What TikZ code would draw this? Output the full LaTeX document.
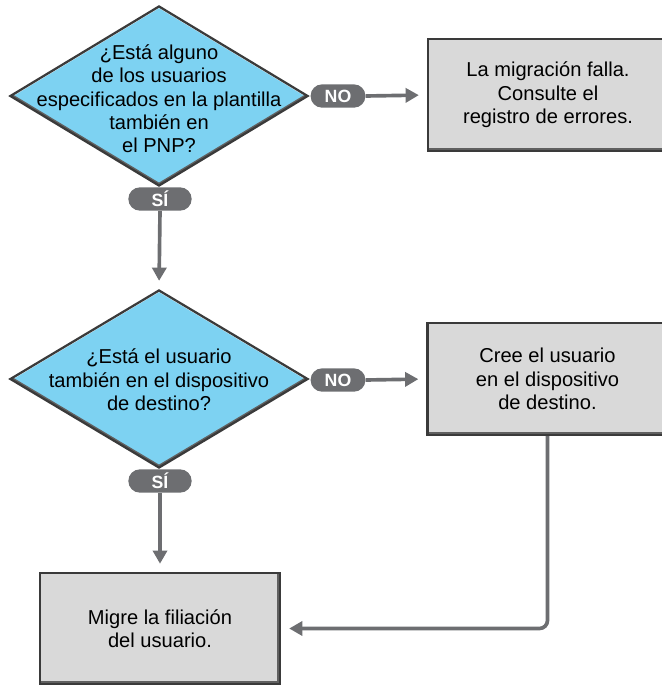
\documentclass[tikz,border=0pt]{standalone}
\usepackage{fontspec}
\setmainfont{Liberation Sans}
\usetikzlibrary{shapes.geometric,arrows.meta}
\definecolor{qblue}{RGB}{125,210,242}
\definecolor{edgedark}{RGB}{58,58,58}
\definecolor{tagGray}{RGB}{109,110,113}
\definecolor{boxgray}{RGB}{217,217,217}
\definecolor{shadegray}{RGB}{96,96,96}
\tikzset{
  decision/.style={diamond, draw=edgedark, line width=1.6pt, fill=qblue, inner sep=0pt,
    path picture={
      \draw[white, line width=2pt] (path picture bounding box.west)
        -- (path picture bounding box.north) -- (path picture bounding box.east);
      \draw[shadegray, line width=3.6pt] (path picture bounding box.west)
        -- (path picture bounding box.south) -- (path picture bounding box.east);
    }},
  qtext/.style={align=center, inner sep=0pt, font=\fontsize{14.3}{16.6}\selectfont},
  action/.style={rectangle, draw=edgedark, line width=1.6pt, fill=boxgray,
    minimum width=6cm, minimum height=2.8cm, inner sep=0pt, align=center,
    font=\fontsize{14.3}{16.6}\selectfont,
    path picture={
      \draw[white, line width=2pt] (path picture bounding box.south west)
        -- (path picture bounding box.north west) -- (path picture bounding box.north east);
      \draw[shadegray, line width=3.8pt] (path picture bounding box.south west)
        -- (path picture bounding box.south east) -- (path picture bounding box.north east);
    }},
  answer/.style={rectangle, rounded corners=8.2pt, fill=tagGray, text=white,
    inner sep=0pt, minimum height=16.6pt, font=\fontsize{12.6}{14}\selectfont\bfseries},
  flow/.style={draw=tagGray, line width=2.6pt, -{Triangle[length=9.4pt,width=10pt]},
    shorten >=5.7pt}
}
\begin{document}
\begin{tikzpicture}[x=0.025cm, y=-0.025cm]
  \clip (0,0) rectangle (662,685);
  % questions
  \node[decision, minimum width=7.45cm, minimum height=4.5cm] (q1) at (159,96) {};
  \node[qtext] (q1text) at (159,99) {¿Está alguno\\de los usuarios\\especificados en la plantilla\\también en\\el PNP?};
  \node[decision, minimum width=7.45cm, minimum height=4.45cm] (q2) at (159,379) {};
  \node[qtext] (q2text) at (159,380) {¿Está el usuario\\también en el dispositivo\\de destino?};
  % answers
  \node[answer, minimum width=39pt] (no1) at (338,96) {NO};
  \node[answer, minimum width=39pt] (no2) at (338,380) {NO};
  \node[answer, minimum width=45pt] (si1) at (160,199) {SÍ};
  \node[answer, minimum width=45pt] (si2) at (160,481) {SÍ};
  % steps
  \node[action] (fail) at (548,95) {La migración falla.\\Consulte el\\registro de errores.};
  \node[action] (create) at (547.5,379) {Cree el usuario\\en el dispositivo\\de destino.};
  \node[action, minimum height=2.78cm] (migrate) at (160,628.5) {Migre la filiación\\del usuario.};
  % connectors
  \begin{scope}
    \draw[flow] (no1.east) -- (fail.west);
    \draw[flow] (no2.east) -- (create.west);
    \draw[flow] (si1.south) -- (q2.north);
    \draw[flow] (si2.south) -- (migrate.north);
    \draw[flow, rounded corners=5.7pt] (create.south) |- (migrate.east);
  \end{scope}
\end{tikzpicture}
\end{document}
